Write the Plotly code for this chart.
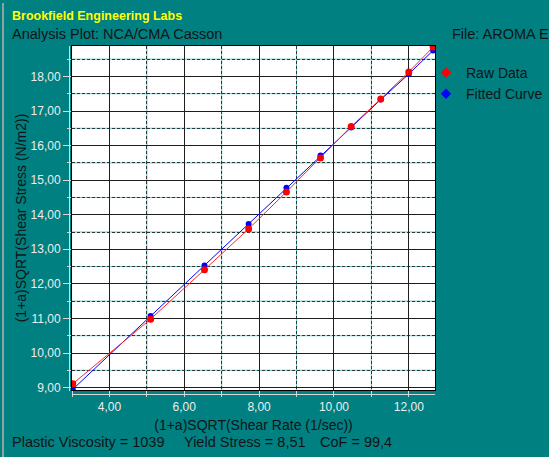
import plotly.graph_objects as go

# ---- data ----
raw_x = [3.02, 5.10, 6.54, 7.72, 8.73, 9.64, 10.46, 11.25, 12.00, 12.65]
raw_y = [9.11, 10.98, 12.41, 13.59, 14.66, 15.64, 16.55, 17.35, 18.13, 18.85]
fit_y = [8.95, 11.07, 12.53, 13.73, 14.78, 15.71, 16.52, 17.33, 18.07, 18.75]

x_tick_vals = [4, 6, 8, 10, 12]
x_tick_text = ["4,00", "6,00", "8,00", "10,00", "12,00"]
x_minor_vals = [3, 5, 7, 9, 11]
y_tick_vals = [9, 10, 11, 12, 13, 14, 15, 16, 17, 18]
y_tick_text = ["9,00", "10,00", "11,00", "12,00", "13,00", "14,00",
               "15,00", "16,00", "17,00", "18,00"]
y_minor_vals = [9.5, 10.5, 11.5, 12.5, 13.5, 14.5, 15.5, 16.5, 17.5, 18.5]
x_range = [3.0, 12.7]
y_range = [8.93, 18.88]

# ---- layout geometry (pixels) ----
WIDTH, HEIGHT = 549, 457
L, R, T, B = 72, 114, 46, 67
PW, PH = WIDTH - L - R, HEIGHT - T - B


def px(xp):
    return (xp - L) / PW


def py(yp):
    return 1 - (yp - T) / PH


FONT = "Liberation Sans, Arial, sans-serif"
TEAL = "#008080"
TICK_LIGHT = "#D8D8D8"
LABEL_LIGHT = "#EDEDED"
DARK = "#101418"

fig = go.Figure()

fig.add_trace(go.Scatter(
    x=raw_x, y=fit_y, mode="lines+markers", name="Fitted Curve",
    line=dict(color="#0000FF", width=1),
    marker=dict(color="#0000FF", size=6),
    showlegend=False, hoverinfo="x+y"))
fig.add_trace(go.Scatter(
    x=raw_x, y=raw_y, mode="lines+markers", name="Raw Data",
    line=dict(color="#FF2828", width=1),
    marker=dict(color="#FF0000", size=7),
    showlegend=False, hoverinfo="x+y"))

# legend entries (diamond symbols, as in the reference legend)
fig.add_trace(go.Scatter(
    x=[None], y=[None], mode="markers", name="Raw Data",
    marker=dict(symbol="diamond", color="#FF0000", size=8), legendrank=1))
fig.add_trace(go.Scatter(
    x=[None], y=[None], mode="markers", name="Fitted Curve",
    marker=dict(symbol="diamond", color="#0000FF", size=8), legendrank=2))

shapes = []
# cyan under-layer for the dashed half-grid lines
for v in x_minor_vals[1:]:
    shapes.append(dict(type="line", xref="x", yref="paper", x0=v, x1=v,
                       y0=0, y1=1, layer="below",
                       line=dict(color="#5EC4C4", width=1)))
for v in y_minor_vals:
    shapes.append(dict(type="line", xref="paper", yref="y", x0=0, x1=1,
                       y0=v, y1=v, layer="below",
                       line=dict(color="#5EC4C4", width=1)))
# light axis lines offset from the plot frame
shapes.append(dict(type="line", xref="paper", yref="paper",
                   x0=px(69.5), x1=px(69.5), y0=py(391), y1=py(46),
                   line=dict(color=TICK_LIGHT, width=1), layer="above"))
shapes.append(dict(type="line", xref="paper", yref="paper",
                   x0=px(72), x1=px(435), y0=py(394.5), y1=py(394.5),
                   line=dict(color=TICK_LIGHT, width=1), layer="above"))
# window edge on the left
shapes.append(dict(type="line", xref="paper", yref="paper",
                   x0=px(3), x1=px(3), y0=py(457), y1=py(3),
                   line=dict(color="#8FA3A3", width=2), layer="above"))

annotations = [
    dict(text="<b>Brookfield Engineering Labs</b>", x=px(10), y=py(16),
         xanchor="left", yanchor="middle",
         font=dict(family=FONT, size=12.5, color="#FFFF00")),
    dict(text="Analysis Plot: NCA/CMA Casson", x=px(10), y=py(34),
         xanchor="left", yanchor="middle",
         font=dict(family=FONT, size=14.5, color=DARK)),
    dict(text="File: AROMA E", x=px(450), y=py(34),
         xanchor="left", yanchor="middle",
         font=dict(family=FONT, size=14.5, color=DARK)),
    dict(text="Plastic Viscosity = 1039", x=px(10), y=py(442),
         xanchor="left", yanchor="middle",
         font=dict(family=FONT, size=14.5, color=DARK)),
    dict(text="Yield Stress = 8,51", x=px(182), y=py(442),
         xanchor="left", yanchor="middle",
         font=dict(family=FONT, size=14.5, color=DARK)),
    dict(text="CoF = 99,4", x=px(318), y=py(442),
         xanchor="left", yanchor="middle",
         font=dict(family=FONT, size=14.5, color=DARK)),
]
for a in annotations:
    a.update(xref="paper", yref="paper", showarrow=False)

fig.update_layout(
    width=WIDTH, height=HEIGHT,
    margin=dict(l=L, r=R, t=T, b=B, autoexpand=False),
    paper_bgcolor=TEAL, plot_bgcolor="#FFFFFF",
    font=dict(family=FONT, size=12, color=DARK),
    showlegend=True,
    legend=dict(x=px(426), y=py(57), xanchor="left", yanchor="top",
                bgcolor="rgba(0,0,0,0)", borderwidth=0,
                font=dict(family=FONT, size=14, color=DARK)),
    shapes=shapes, annotations=annotations,
    hovermode="closest",
)

fig.update_xaxes(
    range=x_range, tickmode="array", tickvals=x_tick_vals, ticktext=x_tick_text,
    ticks="outside", ticklen=6, tickcolor=TICK_LIGHT, tickwidth=1,
    tickfont=dict(family=FONT, size=12, color=LABEL_LIGHT),
    showgrid=True, gridcolor="#1E1E1E", gridwidth=1,
    showline=True, linecolor="#000000", linewidth=1, mirror=True,
    zeroline=False,
    minor=dict(tickmode="array", tickvals=x_minor_vals, ticks="outside",
               ticklen=6, tickcolor=TICK_LIGHT, showgrid=True,
               gridcolor="#333333", griddash="3px,2px", gridwidth=1),
    title=dict(text="(1+a)SQRT(Shear Rate (1/sec))", standoff=6,
               font=dict(family=FONT, size=14, color=DARK)),
)
fig.update_yaxes(
    range=y_range, tickmode="array", tickvals=y_tick_vals, ticktext=y_tick_text,
    ticks="outside", ticklen=8, tickcolor=TICK_LIGHT, tickwidth=1,
    tickfont=dict(family=FONT, size=12, color=LABEL_LIGHT),
    showgrid=True, gridcolor="#1E1E1E", gridwidth=1,
    showline=True, linecolor="#000000", linewidth=1, mirror=True,
    zeroline=False,
    minor=dict(tickmode="array", tickvals=y_minor_vals, ticks="outside",
               ticklen=4, tickcolor=TICK_LIGHT, showgrid=True,
               gridcolor="#333333", griddash="3px,2px", gridwidth=1),
    title=dict(text="(1+a)SQRT(Shear Stress (N/m2))", standoff=0,
               font=dict(family=FONT, size=14, color=DARK)),
)

fig.write_html(
    "out.html",
    config={"displayModeBar": False},
    post_script="document.body.style.margin='0';document.body.style.padding='0';",
)
